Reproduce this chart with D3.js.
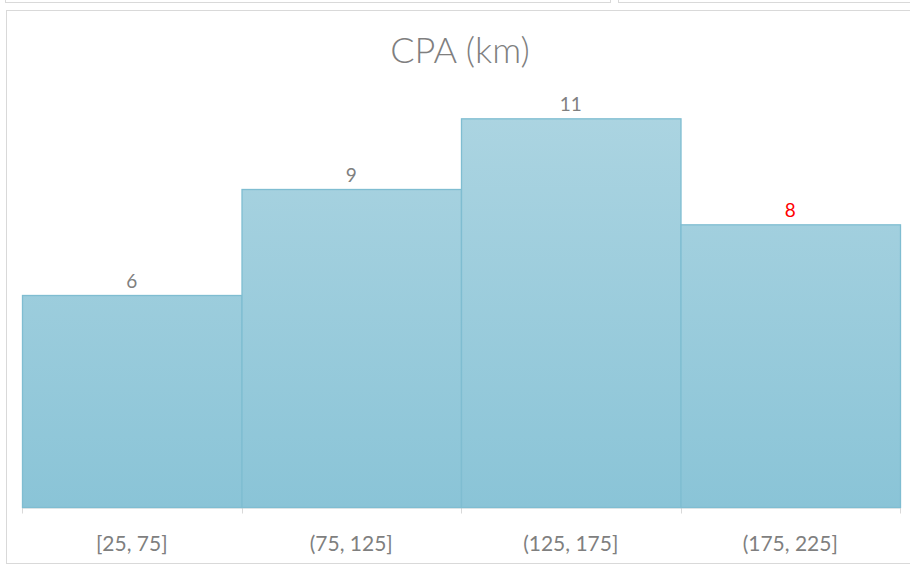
<!DOCTYPE html>
<html>
<head>
<meta charset="utf-8">
<script src="https://cdn.jsdelivr.net/npm/d3@7"></script>
<style>
  body { margin: 0; background: #fff; }
  svg { display: block; font-family: Lato, "Open Sans", sans-serif; }
</style>
</head>
<body>
<div id="chart"></div>
<script>
// bins and counts
var bins = ["[25, 75]", "(75, 125]", "(125, 175]", "(175, 225]"];
var counts = [6, 9, 11, 8];
var labelColors = ["#808080", "#808080", "#808080", "#ff0000"];
var title = "CPA (km)";

var width = 910, height = 565;
var margin = {top: 83, left: 22, right: 10, bottom: 58};

var svg = d3.select("#chart").append("svg")
    .attr("width", width)
    .attr("height", height);

// panel frames (neighbouring panels cut off at the top)
svg.append("rect").attr("x", 5.5).attr("y", -10).attr("width", 605).attr("height", 12.5)
    .attr("fill", "none").attr("stroke", "#d9d9d9");
svg.append("rect").attr("x", 618.5).attr("y", -10).attr("width", 320).attr("height", 12.5)
    .attr("fill", "none").attr("stroke", "#d9d9d9");
svg.append("rect").attr("x", 6.5).attr("y", 10.5).attr("width", 940).attr("height", 553)
    .attr("fill", "#fff").attr("stroke", "#d9d9d9");

var defs = svg.append("defs");
var grad = defs.append("linearGradient")
    .attr("id", "barGrad")
    .attr("gradientUnits", "userSpaceOnUse")
    .attr("x1", 0).attr("x2", 0)
    .attr("y1", 118).attr("y2", 507);
grad.append("stop").attr("offset", "0%").attr("stop-color", "#abd4e1");
grad.append("stop").attr("offset", "100%").attr("stop-color", "#8ac4d7");

var x = d3.scaleBand()
    .domain(bins)
    .range([margin.left, 900])
    .padding(0);

var y = d3.scaleLinear()
    .domain([0, 12])
    .range([507, margin.top]);

svg.append("text")
    .attr("x", 460)
    .attr("y", 63)
    .attr("text-anchor", "middle")
    .attr("fill", "#7f7f7f")
    .style("font-size", "36px")
    .style("font-weight", 300)
    .text(title);

// x axis
var xAxis = svg.append("g")
    .attr("transform", "translate(0,507.5)")
    .call(d3.axisBottom(x).tickSize(0).tickPadding(29).tickSizeOuter(0));
xAxis.select(".domain").attr("stroke", "#d9d9d9");
xAxis.selectAll("text")
    .attr("fill", "#7f7f7f")
    .style("font-size", "21px")
    .style("font-family", "Lato, 'Open Sans', sans-serif");

var edges = bins.map(function(b) { return x(b); }).concat([x.range()[1]]);
xAxis.selectAll(".edge")
    .data(edges)
    .enter().append("line")
    .attr("class", "edge")
    .attr("x1", function(d) { return Math.round(d) + 0.5; })
    .attr("x2", function(d) { return Math.round(d) + 0.5; })
    .attr("y1", 0).attr("y2", 6)
    .attr("stroke", "#d9d9d9");

// bars
svg.append("g").selectAll("rect")
    .data(counts)
    .enter().append("rect")
    .attr("x", function(d, i) { return x(bins[i]) + 0.5; })
    .attr("y", function(d) { return y(d) + 0.5; })
    .attr("width", x.bandwidth())
    .attr("height", function(d) { return y(0) - y(d); })
    .attr("fill", "url(#barGrad)")
    .attr("stroke", "#7fbdd1")
    .attr("stroke-width", 1.3);

// value labels
svg.append("g").selectAll("text")
    .data(counts)
    .enter().append("text")
    .attr("x", function(d, i) { return x(bins[i]) + x.bandwidth() / 2; })
    .attr("y", function(d) { return y(d) - 7; })
    .attr("text-anchor", "middle")
    .attr("fill", function(d, i) { return labelColors[i]; })
    .style("font-size", "19px")
    .text(function(d) { return d; });
</script>
</body>
</html>
